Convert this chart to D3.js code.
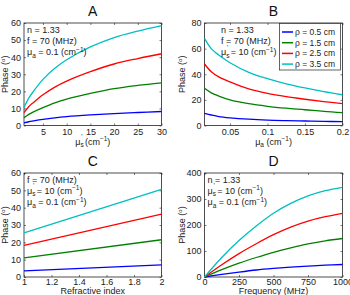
<!DOCTYPE html>
<html><head><meta charset="utf-8">
<script src="https://cdn.jsdelivr.net/npm/d3@7"></script>
<style>body{margin:0;background:#fff}svg{font-family:"Liberation Sans",Arial,sans-serif}</style>
</head><body><svg id="c" width="350" height="295"></svg>
<script>
const colors = ["#0000ff", "#008000", "#ff0000", "#00bfbf"];
const legendLabels = ["ρ = 0.5 cm", "ρ = 1.5 cm", "ρ = 2.5 cm", "ρ = 3.5 cm"];

// Panel A: phase vs mu_s'
const aX = [1, 2, 3, 5, 7.5, 10, 15, 20, 25, 30];
const aBlue  = [1.5, 2.2, 2.7, 3.6, 4.5, 5.2, 6.2, 7.0, 7.6, 8.2];
const aGreen = [4.5, 6.5, 8.0, 10.5, 13.3, 15.5, 18.8, 21.6, 23.5, 25];
const aRed   = [7.5, 11, 13.5, 18, 22.5, 26, 31.5, 36, 39.2, 42];
const aCyan  = [10.5, 16, 20, 27, 33.5, 38.5, 46, 51.5, 55.3, 58.5];
const aXTicks = [5, 10, 15, 20, 25, 30];
const aYTicks = [0, 10, 20, 30, 40, 50, 60];

// Panel B: phase vs mu_a
const bX = [0.016, 0.025, 0.035, 0.05, 0.075, 0.1, 0.125, 0.15, 0.175, 0.2];
const bBlue  = [9.5, 8.2, 7.0, 6.0, 4.9, 4.2, 3.8, 3.5, 3.2, 3.0];
const bGreen = [29, 25.5, 23, 20, 17, 15, 13.5, 12.3, 11, 10];
const bRed   = [48, 42, 38, 34, 28.5, 25, 22.5, 20.5, 18.7, 17];
const bCyan  = [68, 60, 55, 49, 41.5, 36.5, 32.5, 29.3, 26.5, 24];
const bXTicks = [0.05, 0.1, 0.15, 0.2];
const bYTicks = [0, 20, 40, 60, 80];

// Panel C: phase vs refractive index
const cX = [1, 2];
const cBlue  = [3.5, 7];
const cGreen = [11, 21.5];
const cRed   = [18.2, 36.3];
const cCyan  = [25.5, 50.5];
const cXTicks = [1, 1.2, 1.4, 1.6, 1.8, 2];
const cYTicks = [0, 10, 20, 30, 40, 50, 60];

// Panel D: phase vs frequency
const dX = [0, 125, 250, 375, 500, 625, 750, 875, 1000];
const dBlue  = [0, 10, 19, 27, 33, 38, 42, 45.5, 48];
const dGreen = [0, 28, 53, 75, 95, 112, 127, 139, 148];
const dRed   = [0, 47, 90, 128, 163, 192, 215, 232, 245];
const dCyan  = [0, 75, 140, 196, 245, 283, 312, 332, 345];
const dXTicks = [0, 250, 500, 750, 1000];
const dYTicks = [0, 100, 200, 300, 400];

const svg = d3.select("#c");

function panel(o) {
  const x = d3.scaleLinear().domain(o.xd).range([o.l, o.r]);
  const y = d3.scaleLinear().domain(o.yd).range([o.b, o.t]);
  const g = svg.append("g");
  const ax = g.append("g").attr("transform", `translate(0,${o.b})`)
    .call(d3.axisBottom(x).tickValues(o.xt).tickSizeInner(-2).tickSizeOuter(0).tickPadding(o.xp).tickFormat(o.xf || (d => d)));
  const ay = g.append("g").attr("transform", `translate(${o.l},0)`)
    .call(d3.axisLeft(y).tickValues(o.yt).tickSizeInner(-2).tickSizeOuter(0).tickPadding(3));
  const at = g.append("g").attr("transform", `translate(0,${o.t})`)
    .call(d3.axisTop(x).tickValues(o.xt).tickSizeInner(-2).tickSizeOuter(0).tickFormat(""));
  const ar = g.append("g").attr("transform", `translate(${o.r},0)`)
    .call(d3.axisRight(y).tickValues(o.yt).tickSizeInner(-2).tickSizeOuter(0).tickFormat(""));
  [ax, ay, at, ar].forEach(a => {
    a.selectAll("path").remove();
    a.selectAll("line").attr("stroke", "#222").attr("stroke-width", 0.6);
    a.selectAll("text").attr("font-size", 9).attr("fill", "#222").attr("font-family", "Liberation Sans, Arial, sans-serif");
  });
  g.append("rect").attr("x", o.l).attr("y", o.t).attr("width", o.r - o.l).attr("height", o.b - o.t)
    .attr("fill", "none").attr("stroke", "#222").attr("stroke-width", 0.8);
  const line = d3.line().x((d, i) => x(o.xs[i])).y(d => y(d)).curve(d3.curveCatmullRom);
  o.series.forEach((s, i) => {
    g.append("path").attr("d", line(s)).attr("fill", "none").attr("stroke", colors[i]).attr("stroke-width", 1.3);
  });
  // title
  g.append("text").attr("x", (o.l + o.r) / 2).attr("y", o.t - 7).attr("text-anchor", "middle")
    .attr("font-size", 14).attr("fill", "#111").text(o.title);
  // y label
  const yl = g.append("text").attr("transform", `translate(${o.yl},${(o.t + o.b) / 2}) rotate(-90)`)
    .attr("text-anchor", "middle").attr("font-size", 9).attr("fill", "#222");
  yl.append("tspan").text("Phase (");
  yl.append("tspan").attr("dy", -3).attr("font-size", 6).text("o");
  yl.append("tspan").attr("dy", 3).text(")");
  // x label
  const xl = g.append("text").attr("x", (o.l + o.r) / 2).attr("y", o.b + o.xlY).attr("text-anchor", "middle")
    .attr("font-size", 9).attr("fill", "#222");
  o.xlab(xl);
  // annotations
  o.ann.forEach((fn, i) => {
    const t = g.append("text").attr("x", o.ax || (o.l + 3)).attr("y", o.t + 9.5 + i * 11.3).attr("font-size", 9).attr("fill", "#222");
    fn(t);
  });
  return {g, x, y};
}

function muLabel(t, sub, prime) {
  t.append("tspan").text("μ");
  t.append("tspan").attr("dy", 2.5).attr("font-size", 6.5).text(sub);
  if (prime) {
    t.append("tspan").attr("dx", -2.5).attr("dy", -8).attr("font-size", 6.5).text("'");
    t.append("tspan").attr("dy", 5.5).text(" ");
  } else t.append("tspan").attr("dy", -2.5).text(" ");
}
function cmInv(t, pre) {
  t.append("tspan").text(pre + "(cm");
  t.append("tspan").attr("dy", -3.5).attr("font-size", 6.5).text("−1");
  t.append("tspan").attr("dy", 3.5).text(")");
}
const ann_n = t => t.text("n = 1.33");
const ann_f = t => t.text("f = 70 (MHz)");
const ann_mua = t => { muLabel(t, "a", false); cmInv(t, "= 0.1 "); };
const ann_mus = t => { muLabel(t, "s", true); cmInv(t, "= 10 "); };

panel({l: 24, r: 161.5, t: 23, b: 125.5, xd: [1, 30], yd: [0, 60], xt: aXTicks, yt: aYTicks, xp: 3, xlY: 19,
  xs: aX, series: [aBlue, aGreen, aRed, aCyan], title: "A", yl: 8,
  xlab: t => { muLabel(t, "s", true); cmInv(t, ""); },
  ann: [ann_n, ann_f, ann_mua]});

const pB = panel({l: 204.5, r: 342.5, t: 23, b: 125.5, xd: [0.016, 0.2], yd: [0, 80], xt: bXTicks, yt: bYTicks, xp: 3, xlY: 19,
  xs: bX, series: [bBlue, bGreen, bRed, bCyan], title: "B", yl: 185, xf: d3.format("~g"), ax: 221,
  xlab: t => { muLabel(t, "a", false); cmInv(t, ""); },
  ann: [ann_n, ann_f, ann_mus]});

// legend in B
const lg = pB.g.append("g");
lg.append("rect").attr("x", 279.5).attr("y", 23.5).attr("width", 61).attr("height", 46.5)
  .attr("fill", "#fff").attr("stroke", "#222").attr("stroke-width", 0.7);
legendLabels.forEach((s, i) => {
  const yy = 32 + i * 10.7;
  lg.append("line").attr("x1", 282).attr("x2", 293).attr("y1", yy).attr("y2", yy).attr("stroke", colors[i]).attr("stroke-width", 1.5);
  lg.append("text").attr("x", 295).attr("y", yy + 3).attr("font-size", 8.5).attr("fill", "#222").text(s);
});

panel({l: 24, r: 161.5, t: 173, b: 277, xd: [1, 2], yd: [0, 60], xt: cXTicks, yt: cYTicks, xp: 2, xlY: 17,
  xs: cX, series: [cBlue, cGreen, cRed, cCyan], title: "C", yl: 8, xf: d3.format("~g"),
  xlab: t => { t.text("Refractive index"); },
  ann: [ann_f, ann_mus, ann_mua]});

panel({l: 204.5, r: 342.5, t: 173, b: 277, xd: [0, 1000], yd: [0, 400], xt: dXTicks, yt: dYTicks, xp: 2, xlY: 17,
  xs: dX, series: [dBlue, dGreen, dRed, dCyan], title: "D", yl: 185,
  xlab: t => { t.text("Frequency (MHz)"); },
  ann: [ann_n, ann_mus, ann_mua]});
</script></body></html>
